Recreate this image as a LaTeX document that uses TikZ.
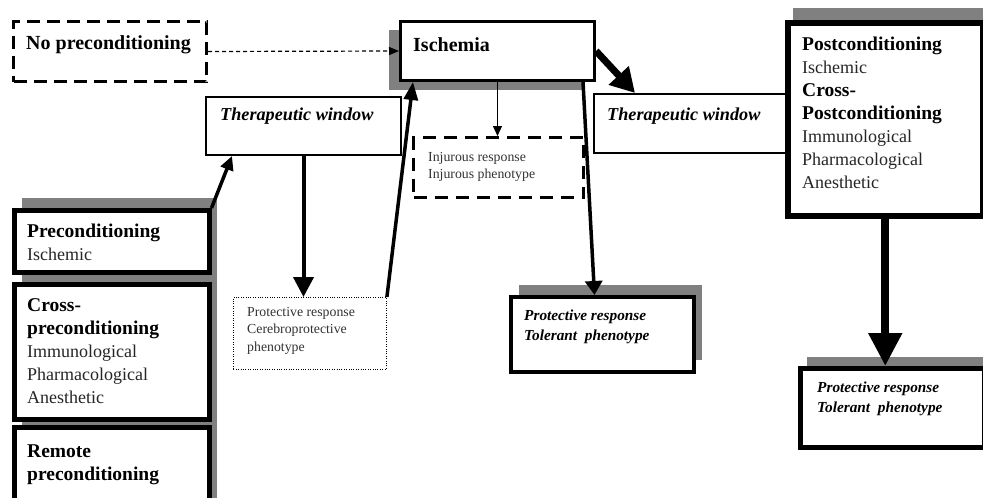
\documentclass[tikz,border=0pt]{standalone}
\usepackage{fontspec}
\setmainfont{Liberation Serif}
\usetikzlibrary{arrows.meta}
\newcommand\myhead[1]{{\fontsize{19.5}{23}\selectfont\bfseries\color{black}#1}}
\begin{document}
\begin{tikzpicture}[x=1pt,y=-1pt,
 box/.style={draw=black, fill=white, anchor=north west, inner sep=0pt},
 shadowbox/.style={fill=black!50, draw=none},
 txt/.style={anchor=north west, inner sep=0pt, align=left, font=\fontsize{18}{23}\selectfont, text=black!85},
 smalltxt/.style={anchor=north west, inner sep=0pt, align=left, font=\fontsize{13.8}{17.5}\selectfont, text=black!80},
 titletxt/.style={anchor=north west, inner sep=0pt, font=\fontsize{20}{23}\selectfont\bfseries, text=black},
 twtxt/.style={anchor=north west, inner sep=0pt, font=\fontsize{18.2}{21}\selectfont\bfseries\itshape, text=black},
 toltxt/.style={anchor=north west, inner sep=0pt, align=left, font=\fontsize{15.3}{19.5}\selectfont\bfseries\itshape, text=black},
 conn/.style={draw=black}
]
\useasboundingbox (0,0) rectangle (983,498);

% shadows
\fill[shadowbox] (389,30) rectangle (583,90);
\fill[shadowbox] (207,198) rectangle (217,498);
\fill[shadowbox] (22,198) rectangle (217,260);
\fill[shadowbox] (22,272) rectangle (217,407);
\fill[shadowbox] (22,415) rectangle (217,505);
\fill[shadowbox] (793,8) rectangle (995,203);
\fill[shadowbox] (519,285) rectangle (702,360);
\fill[shadowbox] (807,357) rectangle (995,436);

% boxes
\node[box, line width=3pt, dash pattern=on 13pt off 7pt, minimum width=193pt, minimum height=60pt] (nopre) at (12,20) {};
\node[box, line width=3pt, minimum width=194pt, minimum height=59pt] (isch) at (399,20) {};
\node[box, line width=2pt, minimum width=195pt, minimum height=58pt] (tw1) at (205,96) {};
\node[box, line width=2pt, minimum width=194pt, minimum height=59pt] (tw2) at (593,93) {};
\node[box, line width=3pt, dash pattern=on 13pt off 8pt, minimum width=170pt, minimum height=60pt] (injur) at (412,136) {};
\node[box, line width=0.9pt, dash pattern=on 1pt off 1.4pt, minimum width=153pt, minimum height=72pt] (prot1) at (233,297) {};
\node[box, line width=4.5pt, minimum width=195pt, minimum height=62pt] (precond) at (12,208) {};
\node[box, line width=4.5pt, minimum width=195pt, minimum height=135pt] (cross) at (12,282) {};
\node[box, line width=4.5pt, minimum width=195pt, minimum height=90pt] (remote) at (12,425) {};
\node[box, line width=5.5pt, minimum width=195pt, minimum height=193pt] (post) at (785,20) {};
\node[box, line width=4pt, minimum width=183pt, minimum height=75pt] (tol1) at (509,295) {};
\node[box, line width=5pt, minimum width=184pt, minimum height=79pt] (tol2) at (798,366) {};

% texts
\node[titletxt] (nopreT) at (26,35) {No preconditioning};
\node[titletxt] (ischT) at (413,37) {Ischemia};
\node[twtxt] (tw1T) at (220,108) {Therapeutic window};
\node[twtxt] (tw2T) at (607,108) {Therapeutic window};
\node[smalltxt] (injurT) at (428,152) {Injurous response\\Injurous phenotype};
\node[smalltxt] (prot1T) at (247,307) {Protective response\\Cerebroprotective\\phenotype};
\node[txt] (precondT) at (27,224) {\myhead{Preconditioning}\\Ischemic};
\node[txt] (crossT) at (27,298) {\myhead{Cross-}\\\myhead{preconditioning}\\Immunological\\Pharmacological\\Anesthetic};
\node[txt] (remoteT) at (27,445) {\myhead{Remote}\\\myhead{preconditioning}};
\node[txt] (postT) at (802,37) {\myhead{Postconditioning}\\Ischemic\\\myhead{Cross-}\\\myhead{Postconditioning}\\Immunological\\Pharmacological\\Anesthetic};
\node[toltxt] (tol1T) at (524,310) {Protective response\\Tolerant\ \ phenotype};
\node[toltxt] (tol2T) at (817,382) {Protective response\\Tolerant\ \ phenotype};

% connectors
\draw[conn, line width=1.2pt, dash pattern=on 4pt off 3pt, -{Triangle[length=10pt,width=8pt]}] (nopre.east) -- (isch.west);
\draw[conn, line width=3.5pt, -{Triangle[length=14pt,width=13pt]}] (precond.north east) -- ([xshift=27pt]tw1.south west);
\draw[conn, line width=4pt, -{Triangle[length=20pt,width=20pt]}] (tw1.south) -- (tw1.south |- prot1.north);
\draw[conn, line width=3.5pt, -{Triangle[length=18pt,width=14pt]}] (prot1.north east) -- ([xshift=14pt]isch.south west);
\draw[conn, line width=1.2pt, -{Triangle[length=10pt,width=9pt]}] (isch.south) -- (isch.south |- injur.north);
\draw[conn, line width=3.5pt, -{Triangle[length=14pt,width=17pt]}] ([xshift=-13pt]isch.south east) -- ([xshift=-8pt]tol1.north);
\draw[conn, line width=7pt, -{Triangle[length=24pt,width=26pt]}] (isch.east) -- ([xshift=42pt]tw2.north west);
\draw[conn, line width=8pt, -{Triangle[length=33pt,width=32pt]}] (post.south) -- (post.south |- tol2.north);
\end{tikzpicture}
\end{document}
